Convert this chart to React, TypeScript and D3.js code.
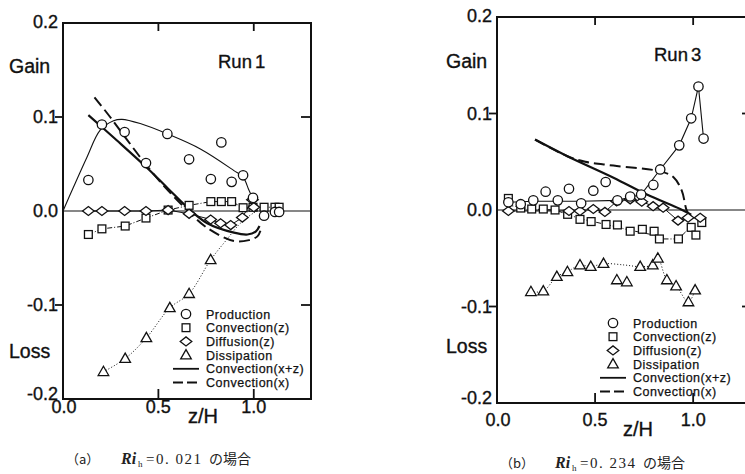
import React from "react";
import * as d3 from "d3";

type P = [number, number];

// ---------- Panel (a) Run 1 ----------
const aProduction: P[] = [[0.133,0.033],[0.204,0.092],[0.323,0.084],[0.435,0.051],[0.547,0.082],[0.661,0.055],[0.775,0.034],[0.830,0.073],[0.884,0.031],[0.944,0.038],[0.996,0.014],[1.054,-0.005],[1.111,-0.001],[1.133,-0.001]];
const aProductionCurve: P[] = [[0,0],[0.054,0.025],[0.125,0.057],[0.195,0.086],[0.265,0.096],[0.309,0.0975],[0.405,0.093],[0.547,0.082],[0.72,0.066],[0.896,0.043],[0.944,0.036],[0.975,0.022],[1.0,0.011]];
const aConvZ: P[] = [[0.133,-0.025],[0.204,-0.019],[0.326,-0.016],[0.435,-0.0075],[0.551,0.001],[0.661,0.006],[0.775,0.01],[0.83,0.01],[0.884,0.01],[0.944,0.0035],[0.996,0.004],[1.054,0.004],[1.111,0.004],[1.133,0.004]];
const aDiffusion: P[] = [[0.133,0],[0.204,0],[0.323,0],[0.435,0],[0.551,0.001],[0.661,-0.003],[0.774,-0.009],[0.826,-0.013],[0.879,-0.015],[0.94,-0.007],[0.993,0.012],[1.0,0.004]];
const aDissipation: P[] = [[0.212,-0.171],[0.326,-0.157],[0.437,-0.135],[0.56,-0.103],[0.661,-0.088],[0.774,-0.052]];
const aDissipationLine: P[] = [[0.212,-0.171],[0.326,-0.157],[0.437,-0.135],[0.56,-0.103],[0.661,-0.088],[0.774,-0.052],[0.86,-0.03],[0.93,-0.013],[1.0,-0.002],[1.05,0.003]];
const aConvXZ: P[] = [[0.133,0.102],[0.283,0.075],[0.44,0.046],[0.55,0.024],[0.651,0.004],[0.756,-0.013],[0.896,-0.023],[0.967,-0.025],[1.01,-0.022],[1.03,-0.016]];
const aConvX: P[] = [[0.165,0.121],[0.247,0.1],[0.335,0.076],[0.44,0.048],[0.55,0.022],[0.651,0.001],[0.756,-0.018],[0.896,-0.032],[0.975,-0.031],[1.019,-0.027],[1.035,-0.021]];

// ---------- Panel (b) Run 3 ----------
const bProduction: P[] = [[0.058,0.008],[0.121,0.006],[0.185,0.010],[0.248,0.019],[0.31,0.010],[0.367,0.022],[0.429,0.007],[0.491,0.020],[0.554,0.029],[0.614,0.010],[0.679,0.014],[0.735,0.016],[0.797,0.026],[0.832,0.042],[0.929,0.067],[0.99,0.095],[1.027,0.128],[1.053,0.074]];
const bProductionCurve: P[] = [[0.058,0.008],[0.185,0.009],[0.31,0.009],[0.429,0.009],[0.614,0.010],[0.735,0.016],[0.832,0.042],[0.929,0.067],[0.99,0.095],[1.027,0.128],[1.053,0.074]];
const bConvZ: P[] = [[0.058,0.012],[0.121,0.002],[0.177,0.001],[0.236,0.001],[0.296,0],[0.36,-0.0045],[0.423,-0.0097],[0.48,-0.012],[0.556,-0.015],[0.614,-0.0155],[0.679,-0.022],[0.741,-0.020],[0.801,-0.022],[0.828,-0.030],[0.925,-0.030],[0.99,-0.018],[1.014,-0.026],[1.044,-0.013]];
const bConvZLine: P[] = [[0.058,0.005],[0.177,0.001],[0.296,0],[0.423,-0.009],[0.556,-0.015],[0.679,-0.021],[0.801,-0.026],[0.828,-0.030],[0.925,-0.030],[0.97,-0.021],[0.99,-0.018]];
const bDiffusion: P[] = [[0.058,-0.001],[0.367,-0.001],[0.423,-0.001],[0.491,0.001],[0.55,-0.002],[0.61,0.009],[0.679,0.011],[0.738,0.0086],[0.796,0.004],[0.847,0.0024],[0.923,-0.011],[0.974,-0.008],[1.036,-0.008]];
const bDissipation: P[] = [[0.173,-0.0847],[0.236,-0.084],[0.305,-0.069],[0.359,-0.064],[0.423,-0.057],[0.478,-0.0587],[0.543,-0.0556],[0.611,-0.0725],[0.662,-0.0746],[0.73,-0.0587],[0.794,-0.057],[0.82,-0.050],[0.866,-0.0725],[0.913,-0.0788],[0.976,-0.0953],[1.01,-0.083]];
const bDissipationLine: P[] = [[0.173,-0.0847],[0.236,-0.084],[0.305,-0.069],[0.359,-0.064],[0.423,-0.057],[0.478,-0.0587],[0.543,-0.0556],[0.65,-0.057],[0.73,-0.0587],[0.794,-0.057],[0.82,-0.050],[0.866,-0.0725],[0.913,-0.0788],[0.976,-0.0953],[1.01,-0.083]];
const bConvXZ: P[] = [[0.194,0.073],[0.356,0.056],[0.594,0.0335],[0.764,0.016],[0.934,0.001],[0.99,-0.005]];
const bConvX: P[] = [[0.194,0.073],[0.356,0.056],[0.45,0.05],[0.594,0.046],[0.832,0.040],[0.9,0.034],[0.942,0.020],[0.968,-0.001],[0.985,-0.006]];

const xTicks = [0, 0.5, 1.0];
const yTickLabels = ["0.2", "0.1", "0.0", "-0.1", "-0.2"];
const yTicks = [0.2, 0.1, 0, -0.1, -0.2];
const legendLabels = ["Production", "Convection(z)", "Diffusion(z)", "Dissipation", "Convection(x+z)", "Convection(x)"];

const FONT = "'Liberation Sans', Arial, sans-serif";

interface PanelCfg {
  x0: number; x1: number; y0: number; y1: number;
  runNum: string; runX: number; runY: number;
  gainX: number; gainY: number; lossY: number;
  legX: number; legY: number;
  xLabBase: number; zhX: number; smoothProd: boolean;
  prod: P[]; prodCurve: P[]; convZ: P[]; convZLine: P[]; diff: P[];
  diss: P[]; dissLine: P[]; convXZ: P[]; convX: P[];
}

function Marker({ kind, x, y }: { kind: string; x: number; y: number }) {
  const st = { fill: "white", stroke: "#111", strokeWidth: 1.3 };
  if (kind === "o") return <circle cx={x} cy={y} r={4.7} {...st} />;
  if (kind === "s") return <rect x={x - 3.9} y={y - 3.9} width={7.8} height={7.8} {...st} />;
  if (kind === "d") return <path d={`M${x - 5.8},${y}L${x},${y - 4.5}L${x + 5.8},${y}L${x},${y + 4.5}Z`} {...st} />;
  return <path d={`M${x},${y - 5.5}L${x + 5.3},${y + 3.8}L${x - 5.3},${y + 3.8}Z`} {...st} />;
}

const txt = { stroke: "#111", strokeWidth: 0.35 };

function Panel({ c }: { c: PanelCfg }) {
  const x = d3.scaleLinear().domain([0, 1.3]).range([c.x0, c.x1]);
  const y = d3.scaleLinear().domain([-0.2, 0.2]).range([c.y1, c.y0]);
  const lin = d3.line<P>().x(d => x(d[0])).y(d => y(d[1]));
  const smooth = d3.line<P>().x(d => x(d[0])).y(d => y(d[1])).curve(d3.curveCatmullRom.alpha(0.5));
  const ink = "#111";
  return (
    <g fontFamily={FONT} fill={ink}>
      <line x1={c.x0} x2={c.x1} y1={y(0)} y2={y(0)} stroke={ink} strokeWidth={1.2} />
      <rect x={c.x0} y={c.y0} width={c.x1 - c.x0} height={c.y1 - c.y0} fill="none" stroke={ink} strokeWidth={2} />
      {[0.5, 1.0].map(t => (
        <g key={"xt" + t}>
          <line x1={x(t)} x2={x(t)} y1={c.y0} y2={c.y0 + 8} stroke={ink} strokeWidth={1.8} />
          <line x1={x(t)} x2={x(t)} y1={c.y1} y2={c.y1 - 10} stroke={ink} strokeWidth={1.8} />
        </g>
      ))}
      {[0.1, -0.1].map(t => (
        <g key={"yt" + t}>
          <line x1={c.x0 - 8} x2={c.x0} y1={y(t)} y2={y(t)} stroke={ink} strokeWidth={1.8} />
          <line x1={c.x1 - 10} x2={c.x1} y1={y(t)} y2={y(t)} stroke={ink} strokeWidth={1.8} />
        </g>
      ))}
      <g {...txt}>
        {yTicks.map((t, i) => (
          <text key={"yl" + i} x={c.x0 - 5} y={y(t) + (t === -0.2 ? 1 : t === 0.2 ? 5 : 6)} fontSize={18} textAnchor="end">{yTickLabels[i]}</text>
        ))}
        {xTicks.map(t => (
          <text key={"xl" + t} x={x(t) + (t === 0 ? 1 : 0)} y={c.xLabBase} fontSize={18} textAnchor="middle">{t.toFixed(1)}</text>
        ))}
        <text x={c.zhX} y={c.xLabBase + 10} fontSize={20}>z/H</text>
        <text x={c.gainX} y={c.gainY} fontSize={19.5}>Gain</text>
        <text x={c.gainX} y={c.lossY} fontSize={19.5}>Loss</text>
        <text x={c.runX} y={c.runY} fontSize={18.5}>Run<tspan dx={3}>{c.runNum}</tspan></text>
      </g>

      <path d={(c.smoothProd ? smooth : lin)(c.prodCurve) || ""} fill="none" stroke={ink} strokeWidth={1.1} />
      <path d={lin(c.convZLine) || ""} fill="none" stroke={ink} strokeWidth={1} strokeDasharray="5,2,1,2" />
      <path d={lin(c.diff) || ""} fill="none" stroke={ink} strokeWidth={1} />
      <path d={smooth(c.dissLine) || ""} fill="none" stroke={ink} strokeWidth={1} strokeDasharray="1,2" />
      <path d={smooth(c.convXZ) || ""} fill="none" stroke={ink} strokeWidth={2.2} />
      <path d={smooth(c.convX) || ""} fill="none" stroke={ink} strokeWidth={2} strokeDasharray="11,5" />

      {c.convZ.map((p, i) => <Marker key={"s" + i} kind="s" x={x(p[0])} y={y(p[1])} />)}
      {c.diff.map((p, i) => <Marker key={"d" + i} kind="d" x={x(p[0])} y={y(p[1])} />)}
      {c.diss.map((p, i) => <Marker key={"t" + i} kind="t" x={x(p[0])} y={y(p[1])} />)}
      {c.prod.map((p, i) => <Marker key={"o" + i} kind="o" x={x(p[0])} y={y(p[1])} />)}

      {legendLabels.map((lab, i) => {
        const ly = c.legY + i * 13.7;
        const sx = c.legX;
        let sym: React.ReactNode = null;
        if (i === 0) sym = <Marker kind="o" x={sx} y={ly} />;
        if (i === 1) sym = <Marker kind="s" x={sx} y={ly} />;
        if (i === 2) sym = <Marker kind="d" x={sx} y={ly} />;
        if (i === 3) sym = <Marker kind="t" x={sx} y={ly} />;
        if (i === 4) sym = <line x1={sx - 13} x2={sx + 13} y1={ly} y2={ly} stroke={ink} strokeWidth={1.8} />;
        if (i === 5) sym = <line x1={sx - 13} x2={sx + 13} y1={ly} y2={ly} stroke={ink} strokeWidth={1.8} strokeDasharray="10,4" />;
        return (
          <g key={lab}>
            {sym}
            <text x={sx + 20} y={ly + 4.5} fontSize={12.5} letterSpacing={0.5} {...txt} strokeWidth={0.25}>{lab}</text>
          </g>
        );
      })}
    </g>
  );
}

const panelA: PanelCfg = {
  x0: 63, x1: 311, y0: 23, y1: 399,
  runNum: "1", runX: 218, runY: 68,
  gainX: 9, gainY: 73, lossY: 358,
  legX: 186, legY: 314,
  xLabBase: 413, zhX: 188, smoothProd: true,
  prod: aProduction, prodCurve: aProductionCurve, convZ: aConvZ, convZLine: aConvZ, diff: aDiffusion,
  diss: aDissipation, dissLine: aDissipationLine, convXZ: aConvXZ, convX: aConvX,
};

const panelB: PanelCfg = {
  x0: 497, x1: 752, y0: 17, y1: 403,
  runNum: "3", runX: 654, runY: 61,
  gainX: 446, gainY: 68, lossY: 353,
  legX: 613, legY: 323,
  xLabBase: 426, zhX: 623, smoothProd: false,
  prod: bProduction, prodCurve: bProductionCurve, convZ: bConvZ, convZLine: bConvZLine, diff: bDiffusion,
  diss: bDissipation, dissLine: bDissipationLine, convXZ: bConvXZ, convX: bConvX,
};

function Caption({ x, y, tag, val }: { x: number; y: number; tag: string; val: string }) {
  const serif = "'Liberation Serif', serif";
  const cjk = "'Noto Sans CJK JP', sans-serif";
  return (
    <g fill="#222">
      <text x={x} y={y} fontSize={13} fontFamily={cjk}>（{tag}）</text>
      <text x={x + 55} y={y} fontSize={16} fontFamily={serif} fontWeight="bold" fontStyle="italic">Ri</text>
      <text x={x + 72} y={y + 3} fontSize={9} fontFamily={serif}>h</text>
      <text x={x + 80} y={y} fontSize={15} fontFamily={serif} letterSpacing={1.5}>=0. {val}</text>
      <text x={x + 143} y={y} fontSize={14} fontFamily={cjk}>の場合</text>
    </g>
  );
}

export default function App() {
  return (
    <svg width={745} height={474} style={{ position: "absolute", left: 0, top: 0, background: "white" }}>
      <rect width={745} height={474} fill="white" />
      <Panel c={panelA} />
      <Panel c={panelB} />
      <Caption x={66} y={464} tag="a" val="021" />
      <Caption x={500} y={468} tag="b" val="234" />
    </svg>
  );
}
